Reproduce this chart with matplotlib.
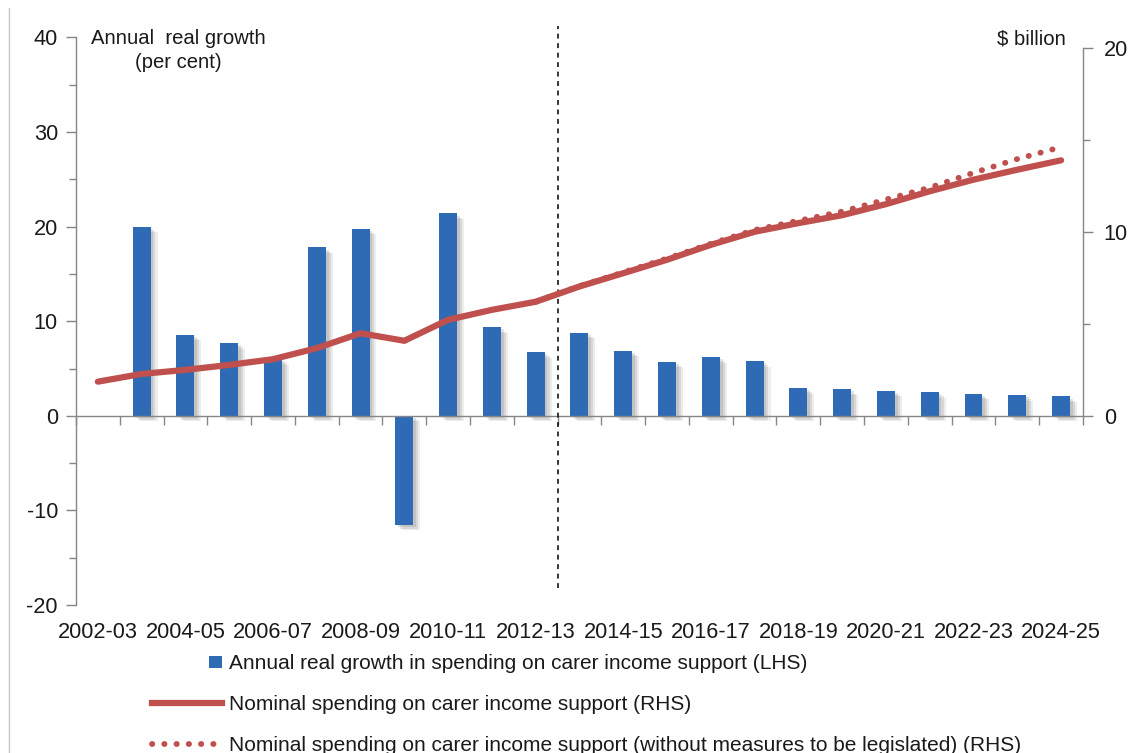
import matplotlib
matplotlib.use("Agg")
import matplotlib.pyplot as plt
import matplotlib.patheffects as pe
from matplotlib.lines import Line2D
from matplotlib.patches import Rectangle
import numpy as np

plt.rcParams['font.family'] = ['Liberation Sans', 'DejaVu Sans']
plt.rcParams['axes.unicode_minus'] = False

# ---- data ----
years = ["2002-03", "2003-04", "2004-05", "2005-06", "2006-07", "2007-08",
         "2008-09", "2009-10", "2010-11", "2011-12", "2012-13", "2013-14",
         "2014-15", "2015-16", "2016-17", "2017-18", "2018-19", "2019-20",
         "2020-21", "2021-22", "2022-23", "2023-24", "2024-25"]

# annual real growth, per cent (LHS); no value for the first year
real_growth = [np.nan, 20.0, 8.6, 7.7, 6.0, 17.8, 19.8, -11.5, 21.4, 9.35,
               6.75, 8.8, 6.9, 5.7, 6.2, 5.8, 2.95, 2.8, 2.65, 2.5, 2.35,
               2.2, 2.05]

# nominal spending, $ billion (RHS)
nominal = [1.86, 2.28, 2.5, 2.77, 3.08, 3.68, 4.49, 4.08, 5.22, 5.76, 6.2,
           7.03, 7.75, 8.48, 9.29, 10.0, 10.47, 10.9, 11.5, 12.2, 12.83,
           13.37, 13.88]

# nominal spending without measures to be legislated, $ billion (RHS)
nominal_no_measures = [np.nan] * 10 + [6.2, 7.05, 7.8, 8.55, 9.35, 10.1,
                                       10.6, 11.1, 11.75, 12.4, 13.2,
                                       13.95, 14.6]

label_bars = "Annual real growth in spending on carer income support (LHS)"
label_line = "Nominal spending on carer income support (RHS)"
label_dots = ("Nominal spending on carer income support "
              "(without measures to be legislated) (RHS)")

BLUE = "#2E6BB4"
RED = "#C0504D"
GREY = "#868686"
TXT = "#1a1a1a"
FS_TICK = 15.7
FS_LEG = 15.0
FS_HEAD = 14.6
DOT_LW = 4.2
DOTS = (0, (0.05, 2.05))

fig = plt.figure(figsize=(11.34, 7.53), dpi=100)
ax = fig.add_axes([0.067, 0.1965, 0.888, 0.7537])
ax2 = ax.twinx()

x = np.arange(len(years))

# bars with a soft drop shadow
bars = ax.bar(x, real_growth, width=0.41, color=BLUE, zorder=2)
for b in bars:
    b.set_path_effects([
        pe.SimplePatchShadow(offset=(5, -4), shadow_rgbFace="#8a8a8a", alpha=0.15),
        pe.SimplePatchShadow(offset=(3.5, -3), shadow_rgbFace="#8a8a8a", alpha=0.22),
        pe.SimplePatchShadow(offset=(2, -1.5), shadow_rgbFace="#8a8a8a", alpha=0.25),
        pe.Normal()])

ax.set_xlim(-0.5, len(years) - 0.5)
ax.set_ylim(-20, 40)
ax.set_yticks(np.arange(-20, 41, 10))
ax.set_yticks(np.arange(-15, 40, 10), minor=True)
ax.tick_params(axis='y', which='major', length=7, width=1, color=GREY,
               labelsize=FS_TICK, labelcolor=TXT, pad=6)
ax.tick_params(axis='y', which='minor', length=5, width=1, color=GREY)

# category axis line sits at zero; labels stay along the bottom edge
ax.spines['bottom'].set_position(('data', 0))
ax.set_xticks(np.arange(-0.5, len(years), 1.0))
ax.tick_params(axis='x', which='major', length=6.5, width=1, color=GREY,
               direction='out', labelbottom=False)
for s in ['top', 'right']:
    ax.spines[s].set_visible(False)
for s in ['left', 'bottom']:
    ax.spines[s].set_color(GREY)
    ax.spines[s].set_linewidth(1)

secx = ax.secondary_xaxis('bottom')
secx.set_xticks(x[::2])
secx.set_xticklabels(years[::2])
secx.tick_params(length=0, labelsize=FS_TICK, labelcolor=TXT, pad=12.5)
secx.spines['bottom'].set_visible(False)

# right-hand axis
ax2.plot(x, nominal, color=RED, lw=4.5, solid_capstyle='round', zorder=4)
ax2.plot(x, nominal_no_measures, color=RED, lw=DOT_LW,
         linestyle=DOTS, dash_capstyle='round', zorder=5)
ax2.set_ylim(-10.27, 20.55)
ax2.set_yticks([0, 10, 20])
ax2.set_yticks([5, 15], minor=True)
ax2.tick_params(axis='y', which='major', length=7, width=1, color=GREY,
                labelsize=FS_TICK, labelcolor=TXT, pad=8)
ax2.tick_params(axis='y', which='minor', length=5, width=1, color=GREY)
for s in ['top', 'left', 'bottom']:
    ax2.spines[s].set_visible(False)
ax2.spines['right'].set_bounds(0, 20)
ax2.spines['right'].set_color(GREY)
ax2.spines['right'].set_linewidth(1)

ax.set_zorder(ax2.get_zorder() - 1)
ax.patch.set_visible(False)

# forecast divider
ax.axvline(10.5, ymin=0.03, ymax=1.02, color="black", lw=1.1,
           linestyle=(0, (3.2, 3.0)), clip_on=False, zorder=6)

# axis titles
fig.text(0.157, 0.9485, "Annual  real growth", fontsize=FS_HEAD, color=TXT,
         ha='center', va='center')
fig.text(0.157, 0.9175, "(per cent)", fontsize=FS_HEAD, color=TXT,
         ha='center', va='center')
fig.text(0.9395, 0.9485, "$ billion", fontsize=FS_HEAD, color=TXT,
         ha='right', va='center')

# thin frame line on the left edge
fig.add_artist(Line2D([0.008, 0.008], [0.0, 0.99], transform=fig.transFigure,
                      color="#c8c8c8", lw=1))


class SquareAtEnd:
    """Legend handler drawing a small square at the right of the handle box."""
    def legend_artist(self, legend, orig_handle, fontsize, handlebox):
        w, h = handlebox.width, handlebox.height
        s = 0.6 * fontsize
        x0 = handlebox.xdescent + w - s
        y0 = handlebox.ydescent + (h - s) / 2
        patch = Rectangle((x0, y0), s, s, facecolor=orig_handle.get_facecolor(),
                          edgecolor='none', transform=handlebox.get_transform())
        handlebox.add_artist(patch)
        return patch


h_bar = Rectangle((0, 0), 1, 1, facecolor=BLUE)
h_line = Line2D([], [], color=RED, lw=4.5)
h_dots = Line2D([], [], color=RED, lw=DOT_LW, linestyle=DOTS,
                dash_capstyle='round')
leg = fig.legend([h_bar, h_line, h_dots], [label_bars, label_line, label_dots],
                 loc='upper left', bbox_to_anchor=(0.134, 0.131),
                 frameon=False, fontsize=FS_LEG, handlelength=3.35,
                 handletextpad=0.35, labelspacing=1.05, borderpad=0,
                 borderaxespad=0, handler_map={Rectangle: SquareAtEnd()})
for t in leg.get_texts():
    t.set_color(TXT)

fig.savefig("out.png", dpi=100)
